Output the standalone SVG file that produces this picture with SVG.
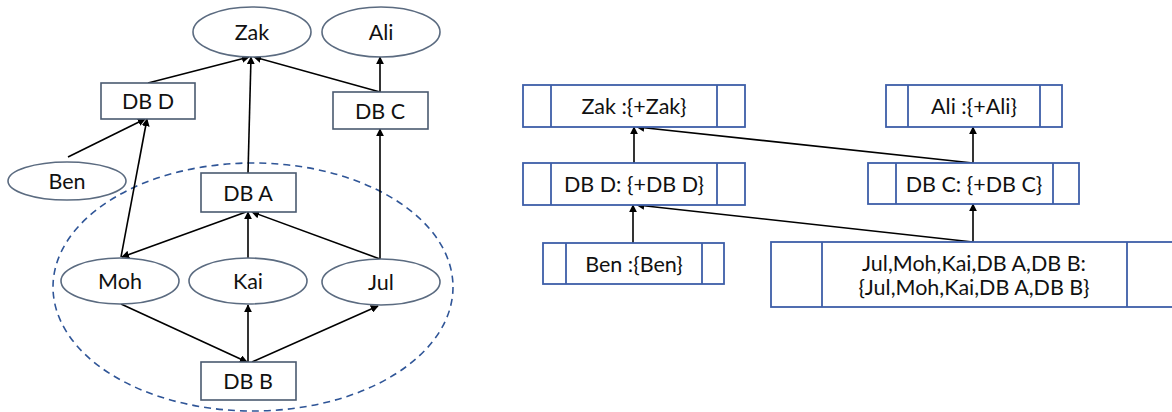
<svg xmlns="http://www.w3.org/2000/svg" width="1172" height="412" viewBox="0 0 1172 412">
<style>
text{font-family:Lato,"Open Sans","Liberation Sans",sans-serif;font-size:21.5px;fill:#111;text-anchor:middle;dominant-baseline:central}
.el{fill:#fff;stroke:#5b6b80;stroke-width:1.6}
.rl{fill:#fff;stroke:#4a5a70;stroke-width:1.6}
.rb{fill:#fff;stroke:#3d5ea8;stroke-width:1.8}
.dv{stroke:#3d5ea8;stroke-width:1.8}
.cn line{stroke:#000;stroke-width:1.6;marker-end:url(#ah)}
</style>
<defs>
<marker id="ah" viewBox="0 0 10 10" refX="9" refY="5" markerWidth="5" markerHeight="5" orient="auto" markerUnits="strokeWidth">
<path d="M0,0 L10,5 L0,10 z" fill="#000"/>
</marker>
</defs>
<ellipse cx="253" cy="287" rx="200" ry="124" fill="none" stroke="#2f5597" stroke-width="1.6" stroke-dasharray="7,5"/>
<g class="cn">
<line x1="148" y1="83" x2="249" y2="57"/>
<line x1="248" y1="173" x2="251" y2="57"/>
<line x1="380" y1="92" x2="254" y2="57"/>
<line x1="380" y1="92" x2="380" y2="57"/>
<line x1="68" y1="157" x2="145" y2="119"/>
<line x1="121" y1="257" x2="147" y2="119"/>
<line x1="246" y1="212" x2="122" y2="257"/>
<line x1="248" y1="258" x2="248" y2="212"/>
<line x1="380" y1="259" x2="252" y2="212"/>
<line x1="380" y1="259" x2="380" y2="129"/>
<line x1="121" y1="304" x2="247" y2="362"/>
<line x1="248" y1="362" x2="248" y2="305"/>
<line x1="252" y1="362" x2="378" y2="306"/>
<line x1="634" y1="163" x2="634" y2="127"/>
<line x1="973" y1="163" x2="637" y2="127"/>
<line x1="973" y1="163" x2="973" y2="127"/>
<line x1="633" y1="243" x2="633" y2="205"/>
<line x1="973" y1="242" x2="637" y2="205"/>
<line x1="973" y1="242" x2="973" y2="204"/>
</g>
<g id="zak"><ellipse class="el" cx="252" cy="32" rx="59" ry="25"/><text x="252" y="32">Zak</text></g>
<g id="ali"><ellipse class="el" cx="381" cy="32" rx="59" ry="25"/><text x="381" y="32">Ali</text></g>
<g id="dbd"><rect class="rl" x="101" y="83" width="94" height="36"/><text x="148" y="101">DB D</text></g>
<g id="dbc"><rect class="rl" x="333" y="92" width="95" height="37"/><text x="380" y="111">DB C</text></g>
<g id="ben"><ellipse class="el" cx="67" cy="181" rx="59" ry="19"/><text x="67" y="181">Ben</text></g>
<g id="dba"><rect class="rl" x="201" y="173" width="95" height="39"/><text x="248" y="193">DB A</text></g>
<g id="moh"><ellipse class="el" cx="120" cy="281" rx="59" ry="23"/><text x="120" y="281">Moh</text></g>
<g id="kai"><ellipse class="el" cx="248" cy="281" rx="59" ry="23"/><text x="248" y="281">Kai</text></g>
<g id="jul"><ellipse class="el" cx="381" cy="282" rx="59" ry="23"/><text x="381" y="282">Jul</text></g>
<g id="dbb"><rect class="rl" x="201" y="362" width="95" height="38"/><text x="248" y="381">DB B</text></g>
<g id="r-zak"><rect class="rb" x="523" y="85" width="222" height="42"/><line class="dv" x1="551" y1="85" x2="551" y2="127"/><line class="dv" x1="717" y1="85" x2="717" y2="127"/><text x="634" y="106">Zak :{+Zak}</text></g>
<g id="r-dbd"><rect class="rb" x="523" y="163" width="222" height="42"/><line class="dv" x1="551" y1="163" x2="551" y2="205"/><line class="dv" x1="717" y1="163" x2="717" y2="205"/><text x="634" y="184">DB D: {+DB D}</text></g>
<g id="r-ben"><rect class="rb" x="543" y="243" width="181" height="41"/><line class="dv" x1="566" y1="243" x2="566" y2="284"/><line class="dv" x1="702" y1="243" x2="702" y2="284"/><text x="634" y="264">Ben :{Ben}</text></g>
<g id="r-ali"><rect class="rb" x="886" y="85" width="176" height="42"/><line class="dv" x1="908" y1="85" x2="908" y2="127"/><line class="dv" x1="1040" y1="85" x2="1040" y2="127"/><text x="974" y="106">Ali :{+Ali}</text></g>
<g id="r-dbc"><rect class="rb" x="868" y="163" width="211" height="41"/><line class="dv" x1="896" y1="163" x2="896" y2="204"/><line class="dv" x1="1053" y1="163" x2="1053" y2="204"/><text x="974" y="184">DB C: {+DB C}</text></g>
<g id="r-jul"><rect class="rb" x="771" y="242" width="410" height="65"/><line class="dv" x1="822" y1="242" x2="822" y2="307"/><line class="dv" x1="1127" y1="242" x2="1127" y2="307"/><text x="974" y="263">Jul,Moh,Kai,DB A,DB B:</text><text x="974" y="287">{Jul,Moh,Kai,DB A,DB B}</text></g>
</svg>
